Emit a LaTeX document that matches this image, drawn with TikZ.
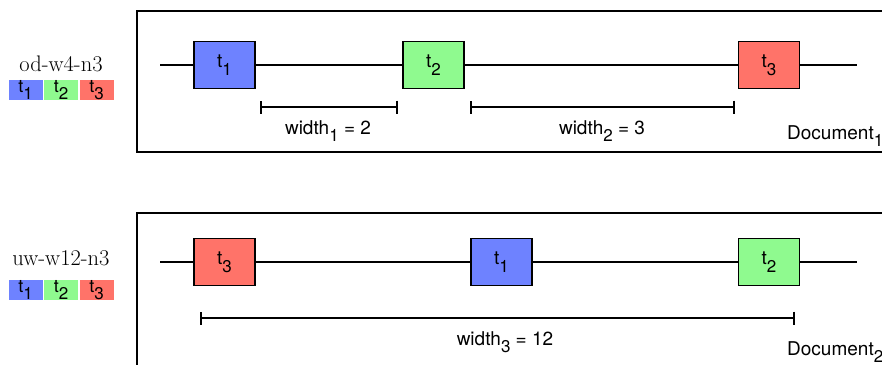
\documentclass[tikz,border=0pt]{standalone}
\usepackage{fontspec}
\newfontfamily\hv{TeX Gyre Heros}
\usetikzlibrary{arrows.meta}
\definecolor{tblue}{RGB}{110,130,255}
\definecolor{tgreen}{RGB}{143,250,143}
\definecolor{tred}{RGB}{255,115,105}
\newcommand{\sbs}[1]{\raisebox{-0.42em}{\fontsize{17}{18}\selectfont #1}}
\tikzset{
  term/.style={draw=black, line width=1.6pt, minimum width=61pt, minimum height=47pt, inner sep=0pt, font=\hv\fontsize{19}{22}\selectfont},
  swatch/.style={minimum width=34pt, minimum height=20pt, inner sep=0pt, font=\hv\fontsize{18}{20}\selectfont},
  frame/.style={draw=black, line width=1.6pt},
  tl/.style={line width=1.6pt},
  span/.style={line width=1.6pt, {Bar[width=13pt,line width=1.6pt]}-{Bar[width=13pt,line width=1.6pt]}},
  lab/.style={font=\hv\fontsize{19}{22}\selectfont, inner sep=0pt},
  side/.style={font=\fontsize{22.5}{25}\selectfont, inner sep=0pt}
}
\begin{document}
\begin{tikzpicture}[x=1pt,y=-1pt]
\useasboundingbox (0,0) rectangle (882,364);
\clip (0,0) rectangle (882,364);
\fill[white] (0,0) rectangle (882,364);
% ---------- Document 1 ----------
\draw[frame] (137,11) rectangle (900,152);
\coordinate (s1) at (160,65);
\coordinate (e1) at (857,65);
\node[term, fill=tblue]  (a1) at (224.5,65) {t\sbs{1}};
\node[term, fill=tgreen] (a2) at (433.5,65) {t\sbs{2}};
\node[term, fill=tred]   (a3) at (769,65)   {t\sbs{3}};
\draw[tl] (s1) -- (a1.west);
\draw[tl] (a1.east) -- (a2.west);
\draw[tl] (a2.east) -- (a3.west);
\draw[tl] (a3.east) -- (e1);
\coordinate (w1a) at (260,107);
\coordinate (w1b) at (398,107);
\coordinate (w2a) at (470,107);
\coordinate (w2b) at (735,107);
\draw[span] (w1a) -- (w1b);
\draw[span] (w2a) -- (w2b);
\node[lab, anchor=base] (l1) at (328,134) {width\sbs{1} = 2};
\node[lab, anchor=base] (l2) at (602,134) {width\sbs{2} = 3};
\node[lab, anchor=base west] (d1) at (787,139) {Document\sbs{1}};
% ---------- Document 2 ----------
\draw[frame] (137,213) rectangle (900,400);
\coordinate (s2) at (160,262);
\coordinate (e2) at (857,262);
\node[term, fill=tred]   (b3) at (224.5,262) {t\sbs{3}};
\node[term, fill=tblue]  (b1) at (501.5,262) {t\sbs{1}};
\node[term, fill=tgreen] (b2) at (769,262)   {t\sbs{2}};
\draw[tl] (s2) -- (b3.west);
\draw[tl] (b3.east) -- (b1.west);
\draw[tl] (b1.east) -- (b2.west);
\draw[tl] (b2.east) -- (e2);
\coordinate (w3a) at (200,318);
\coordinate (w3b) at (795,318);
\draw[span] (w3a) -- (w3b);
\node[lab, anchor=base] (l3) at (505,345) {width\sbs{3} = 12};
\node[lab, anchor=base west] (d2) at (787,355) {Document\sbs{2}};
% ---------- side legends ----------
\node[side, anchor=base] (n1) at (61,71) {od-w4-n3};
\node[swatch, fill=tblue]  (k11) at (25.5,90) {t\sbs{1}};
\node[swatch, fill=tgreen] (k12) at (61,90)   {t\sbs{2}};
\node[swatch, fill=tred]   (k13) at (96.5,90) {t\sbs{3}};
\node[side, anchor=base] (n2) at (61,265) {uw-w12-n3};
\node[swatch, fill=tblue]  (k21) at (25.5,290) {t\sbs{1}};
\node[swatch, fill=tgreen] (k22) at (61,290)   {t\sbs{2}};
\node[swatch, fill=tred]   (k23) at (96.5,290) {t\sbs{3}};
\end{tikzpicture}
\end{document}
